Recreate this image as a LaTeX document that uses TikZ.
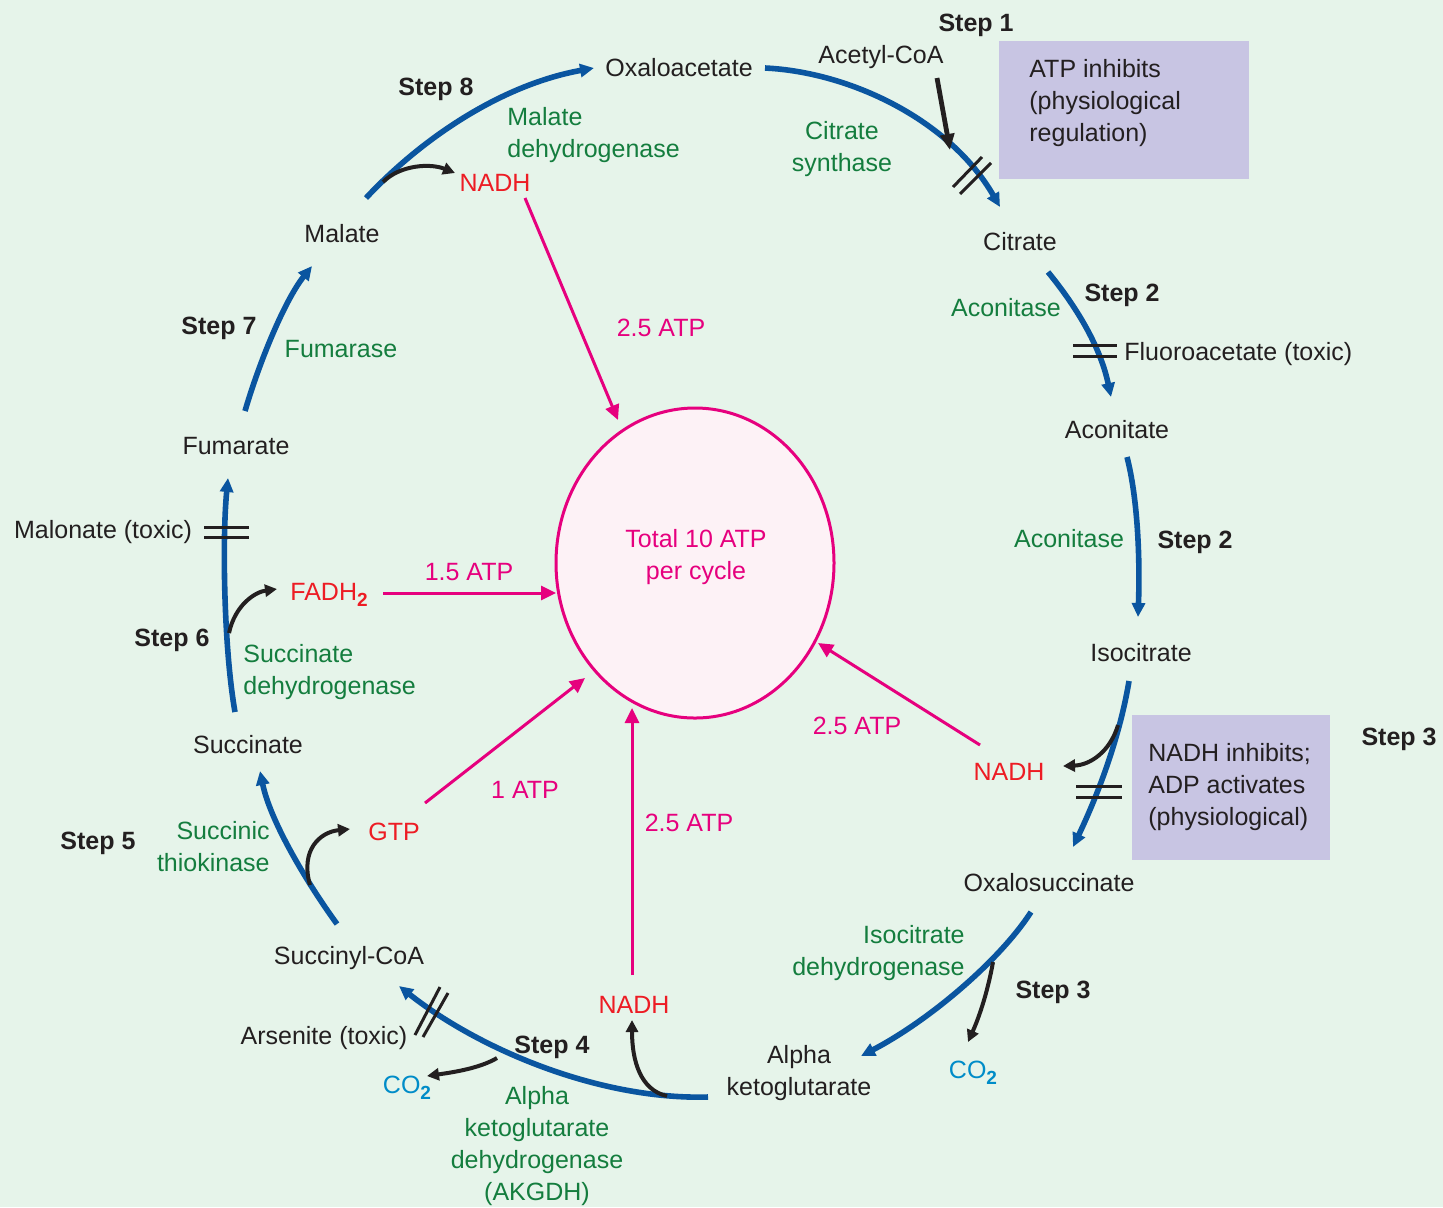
\documentclass[tikz,border=0pt]{standalone}
\usepackage{fontspec}
\setmainfont{Liberation Sans}
\usetikzlibrary{arrows.meta,shapes.geometric}
\definecolor{bgc}{RGB}{230,244,234}
\definecolor{txt}{RGB}{35,31,32}
\definecolor{enzg}{RGB}{20,125,62}
\definecolor{redc}{RGB}{237,28,36}
\definecolor{mag}{RGB}{230,0,126}
\definecolor{cyanc}{RGB}{0,140,200}
\definecolor{cycblue}{RGB}{10,85,160}
\definecolor{boxc}{RGB}{200,197,227}
\definecolor{ellf}{RGB}{253,242,246}
\newcommand{\lowtwo}{\raisebox{-0.45ex}{\fontsize{9.5}{9.5}\selectfont\bfseries 2}}
\begin{document}
\begin{tikzpicture}[x=0.5pt,y=-0.5pt,
  every node/.style={inner sep=0pt, font=\fontsize{12.5}{16}\selectfont, text=txt},
  txtn/.style={yshift=-1pt},
  stepl/.style={txtn, font=\fontsize{12.5}{16}\selectfont\bfseries},
  enz/.style={txtn, text=enzg},
  redt/.style={txtn, text=redc},
  magt/.style={txtn, text=mag},
  cyant/.style={txtn, text=cyanc},
  blarr/.style={draw=cycblue, line width=2.8pt, -{Triangle[length=7pt,width=6.5pt]}},
  bkarr/.style={draw=txt, line width=2pt, -{Triangle[length=6pt,width=6pt]}},
  mgarr/.style={draw=mag, line width=1.5pt, -{Triangle[length=7.5pt,width=7pt]}},
  hashl/.style={draw=txt, line width=1.5pt},
  boxn/.style={fill=boxc, draw=none}
]
\fill[bgc] (0,0) rectangle (1443,1207);
\useasboundingbox (0,0) rectangle (1443,1207);

% boxes
\node[boxn, minimum width=125pt, minimum height=69pt] (box1) at (1124,110) {};
\node[boxn, minimum width=99pt, minimum height=72.5pt] (box2) at (1231,787.5) {};

% central ellipse
\node[draw=mag, fill=ellf, line width=1.5pt, ellipse, minimum width=139pt, minimum height=155pt] (atp) at (695,563) {};

% texts
\node[stepl] (s1) at (976,23) {Step 1};
\node[txtn] (acoa) at (881,55) {Acetyl-CoA};
\node[txtn, anchor=west, align=left] (b1t) at (1029,101.5) {ATP inhibits\\(physiological\\regulation)};
\node[txtn] (oaa) at (679,66) {Oxaloacetate};
\node[stepl] (s8) at (436,87) {Step 8};
\node[enz, anchor=west, align=left] (mdh) at (507,133) {Malate\\dehydrogenase};
\node[redt] (nadh8) at (495,181) {NADH};
\node[enz, align=center] (cs) at (842,147) {Citrate\\synthase};
\node[txtn] (cit) at (1020,240) {Citrate};
\node[txtn] (mal) at (342,232) {Malate};
\node[enz] (acn1) at (1006,306) {Aconitase};
\node[stepl] (s2a) at (1122,293) {Step 2};
\node[txtn, anchor=west] (fluo) at (1124,352) {Fluoroacetate (toxic)};
\node[txtn] (acn) at (1117,428) {Aconitate};
\node[magt] (t8) at (661,326) {2.5 ATP};
\node[stepl] (s7) at (219,326) {Step 7};
\node[enz] (fumase) at (341,347) {Fumarase};
\node[txtn] (fum) at (236,444) {Fumarate};
\node[txtn] (malon) at (103,530) {Malonate (toxic)};
\node[enz] (acn2) at (1069,537) {Aconitase};
\node[stepl] (s2b) at (1195,540) {Step 2};
\node[magt, align=center] (tot) at (696,555) {Total 10 ATP\\per cycle};
\node[magt] (t6) at (469,570) {1.5 ATP};
\node[redt] (fadh) at (329,593) {FADH\lowtwo};
\node[stepl] (s6) at (172,638) {Step 6};
\node[enz, anchor=west, align=left] (sdh) at (243,670) {Succinate\\dehydrogenase};
\node[txtn] (isc) at (1141,651) {Isocitrate};
\node[stepl] (s3a) at (1399,737) {Step 3};
\node[txtn, anchor=west, align=left] (b2t) at (1148,785.5) {NADH inhibits;\\ADP activates\\(physiological)};
\node[magt] (t3) at (857,724) {2.5 ATP};
\node[redt] (nadh3) at (1009,770) {NADH};
\node[txtn] (suc) at (248,743) {Succinate};
\node[magt] (t5) at (525,788) {1 ATP};
\node[magt] (t4) at (689,821) {2.5 ATP};
\node[redt] (gtp) at (394,830) {GTP};
\node[enz, anchor=east, align=right] (stk) at (270,845) {Succinic\\thiokinase};
\node[stepl] (s5) at (98,841) {Step 5};
\node[txtn] (oxs) at (1049,881) {Oxalosuccinate};
\node[enz, anchor=east, align=right] (idh) at (965,951.5) {Isocitrate\\dehydrogenase};
\node[txtn] (sca) at (349,956) {Succinyl-CoA};
\node[stepl] (s3b) at (1053,990) {Step 3};
\node[redt] (nadh4) at (634,1003) {NADH};
\node[txtn] (ars) at (324,1036) {Arsenite (toxic)};
\node[stepl] (s4) at (552,1045) {Step 4};
\node[txtn, align=center] (akg) at (799,1071.5) {Alpha\\ketoglutarate};
\node[cyant] (co2a) at (973,1071) {CO\lowtwo};
\node[cyant] (co2b) at (407,1086) {CO\lowtwo};
\node[enz, align=center] (akgdh) at (537,1144) {Alpha\\ketoglutarate\\dehydrogenase\\(AKGDH)};

% coordinates for connector ends
\coordinate (m8s) at (366,198);   \coordinate (m8e) at (594,68);
\coordinate (c1s) at (765,68);    \coordinate (c1e) at (1000,207);
\coordinate (c2s) at (1048,272);  \coordinate (c2e) at (1111,397);
\coordinate (c3s) at (1127,457);  \coordinate (c3e) at (1138,617);
\coordinate (c4s) at (1129,681);  \coordinate (c4e) at (1073,847);
\coordinate (c5s) at (1031,912);  \coordinate (c5e) at (861,1056);
\coordinate (c6s) at (708,1097);  \coordinate (c6e) at (399,986);
\coordinate (c7s) at (337,924);   \coordinate (c7e) at (260,771);
\coordinate (c8s) at (235,712);   \coordinate (c8e) at (228,478);
\coordinate (c9s) at (245,411);   \coordinate (c9e) at (312,266);

% blue cycle arrows
\draw[blarr] (m8s) .. controls (420,140) and (500,85) .. (m8e);
\draw[blarr] (c1s) .. controls (850,72) and (950,120) .. (c1e);
\draw[blarr] (c2s) .. controls (1075,305) and (1100,345) .. (c2e);
\draw[blarr] (c3s) .. controls (1138,500) and (1140,560) .. (c3e);
\draw[blarr] (c4s) .. controls (1120,735) and (1100,790) .. (c4e);
\draw[blarr] (c5s) .. controls (1000,960) and (930,1020) .. (c5e);
\draw[blarr] (c6s) .. controls (600,1100) and (480,1050) .. (c6e);
\draw[blarr] (c7s) .. controls (305,880) and (270,820) .. (c7e);
\draw[blarr] (c8s) .. controls (224,650) and (222,540) .. (c8e);
\draw[blarr] (c9s) .. controls (260,360) and (285,300) .. (c9e);

% black side arrows
\coordinate (k1s) at (937,78);   \coordinate (k1e) at (950,150);
\coordinate (k2s) at (383,182);  \coordinate (k2e) at (455,173);
\coordinate (k3s) at (1118,725); \coordinate (k3e) at (1063,766);
\coordinate (k4s) at (993,962);  \coordinate (k4e) at (968,1042);
\coordinate (k5s) at (667,1096); \coordinate (k5e) at (632,1020);
\coordinate (k6s) at (497,1058); \coordinate (k6e) at (427,1076);
\coordinate (k7s) at (310,885);  \coordinate (k7e) at (350,829);
\coordinate (k8s) at (229,633);  \coordinate (k8e) at (277,589);
\draw[bkarr, line width=2.4pt, -{Triangle[length=8pt,width=7pt]}] (k1s) -- (k1e);
\draw[bkarr] (k2s) .. controls (400,165) and (430,163) .. (k2e);
\draw[bkarr] (k3s) .. controls (1110,752) and (1090,765) .. (k3e);
\draw[bkarr] (k4s) .. controls (988,990) and (980,1015) .. (k4e);
\draw[bkarr] (k5s) .. controls (640,1090) and (632,1060) .. (k5e);
\draw[bkarr] (k6s) .. controls (480,1068) and (455,1072) .. (k6e);
\draw[bkarr] (k7s) .. controls (300,850) and (320,832) .. (k7e);
\draw[bkarr] (k8s) .. controls (235,605) and (255,592) .. (k8e);

% inhibition marks
\draw[hashl] (953,187) -- (982,157);
\draw[hashl] (960,194) -- (991,163);
\draw[hashl] (1073,345) -- (1117,345);
\draw[hashl] (1073,356) -- (1117,356);
\draw[hashl] (1076,786) -- (1122,786);
\draw[hashl] (1076,797) -- (1122,797);
\draw[hashl] (204,527) -- (249,527);
\draw[hashl] (204,537) -- (249,537);
\draw[hashl] (415,1035) -- (440,987);
\draw[hashl] (423,1037) -- (448,993);

% magenta ATP arrows
\coordinate (p1s) at (525,198);  \coordinate (p1e) at (618,420);
\coordinate (p2s) at (383,593);  \coordinate (p2e) at (556,593);
\coordinate (p3s) at (425,803);  \coordinate (p3e) at (585,678);
\coordinate (p4s) at (632,975);  \coordinate (p4e) at (632,708);
\coordinate (p5s) at (980,745);  \coordinate (p5e) at (818,643);
\draw[mgarr] (p1s) -- (p1e);
\draw[mgarr] (p2s) -- (p2e);
\draw[mgarr] (p3s) -- (p3e);
\draw[mgarr] (p4s) -- (p4e);
\draw[mgarr] (p5s) -- (p5e);
\end{tikzpicture}
\end{document}
